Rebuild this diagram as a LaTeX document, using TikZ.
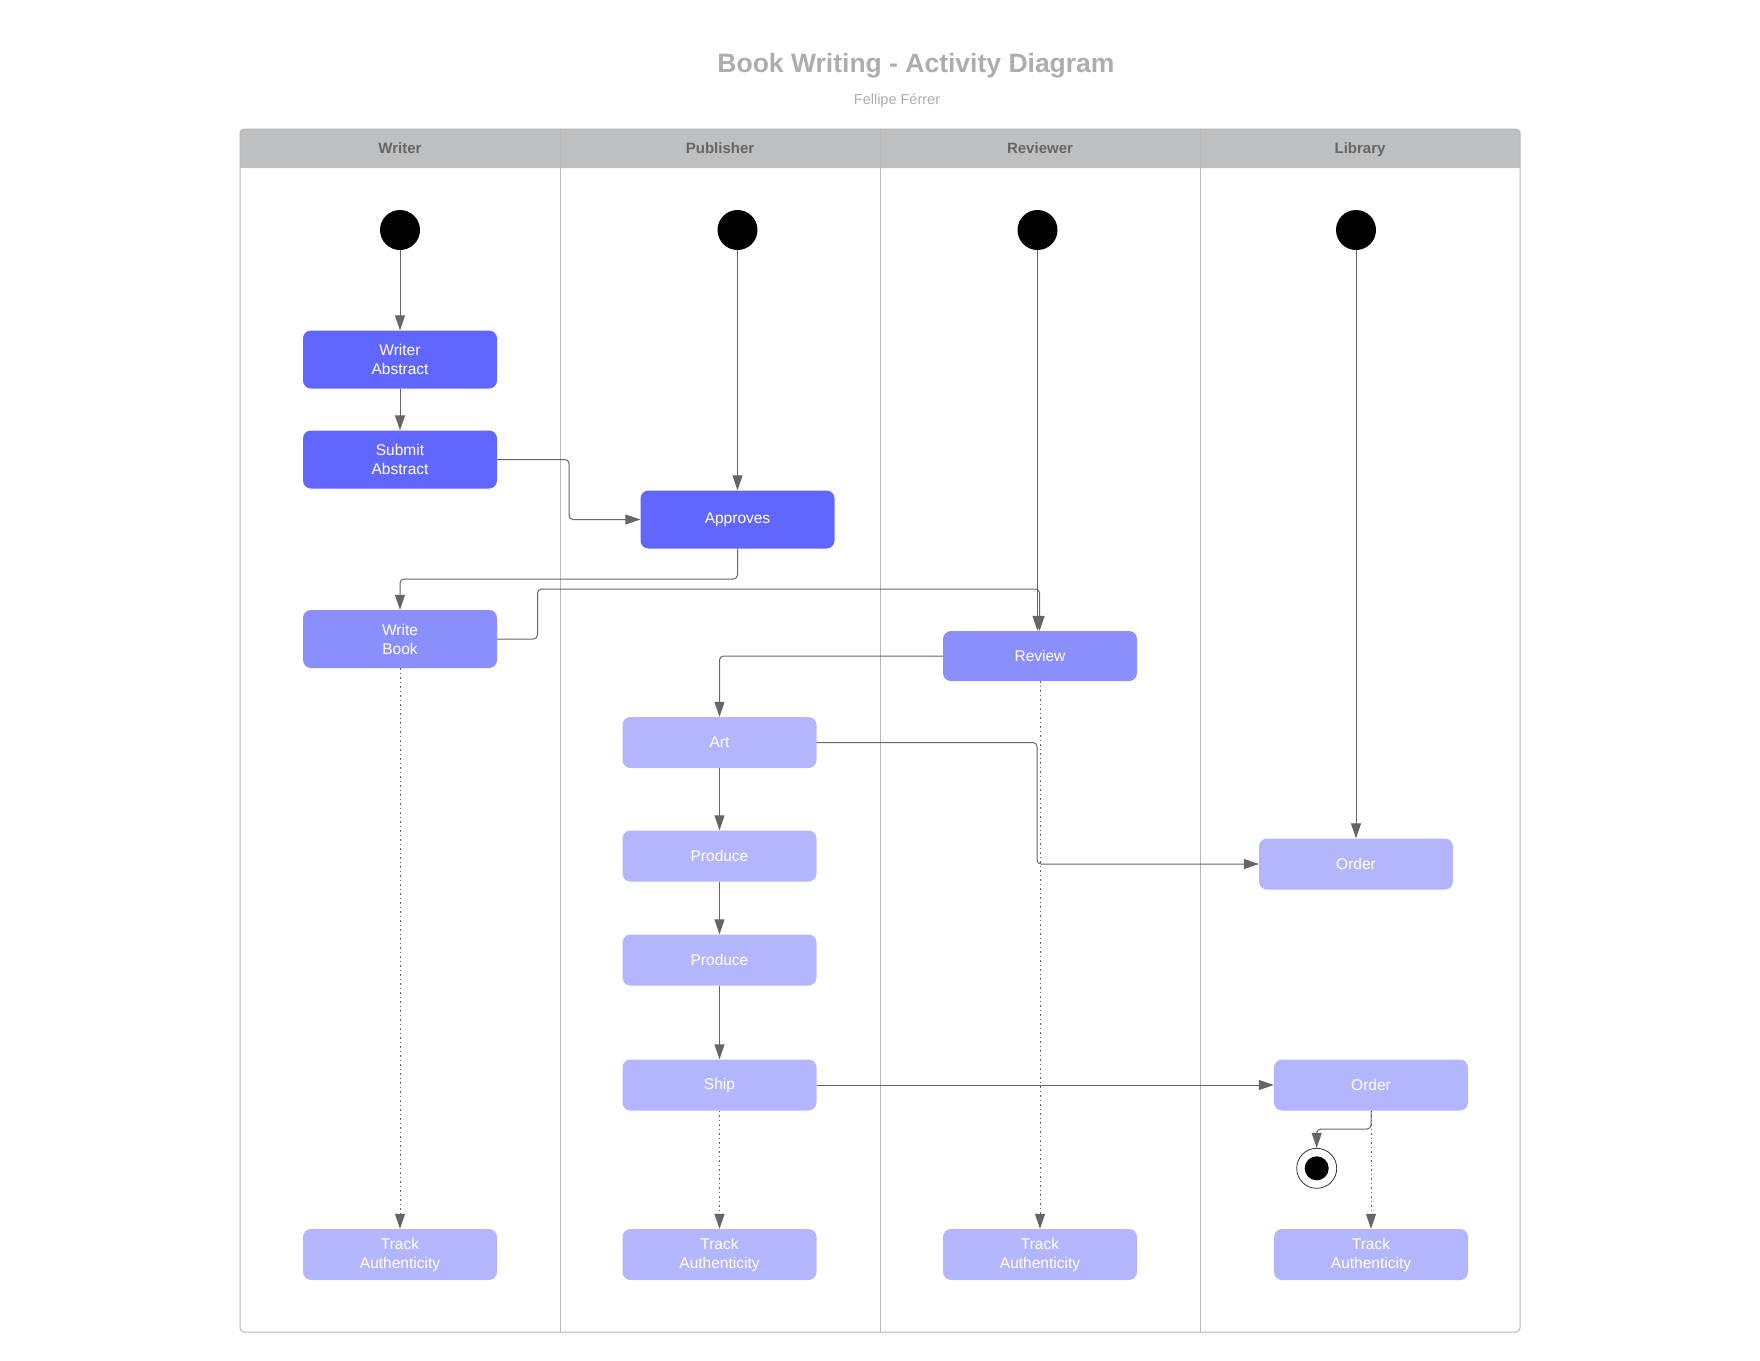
\documentclass[tikz,border=0pt]{standalone}
\usepackage{fontspec}
\setmainfont{Liberation Sans}
\usetikzlibrary{arrows.meta}
\definecolor{cdark}{HTML}{6066FE}
\definecolor{cmed}{HTML}{8A8FFC}
\definecolor{clight}{HTML}{B3B6FC}
\definecolor{cline}{HTML}{666666}
\definecolor{chead}{HTML}{BEBFC1}
\definecolor{cborder}{HTML}{B8B8B8}
\definecolor{ctitle}{HTML}{ADADAD}
\definecolor{chtext}{HTML}{666666}
\begin{document}
\begin{tikzpicture}[x=1pt,y=-1pt,
  act/.style={rounded corners=8pt, minimum width=194pt, minimum height=51pt, inner sep=0pt, text=white, align=center, font=\fontsize{15.5}{19}\selectfont},
  actdark/.style={act, fill=cdark, minimum height=58pt},
  actmed/.style={act, fill=cmed, minimum height=50pt},
  actmedtall/.style={act, fill=cmed, minimum height=58pt},
  actlight/.style={act, fill=clight},
  startnode/.style={circle, fill=black, minimum size=40pt, inner sep=0pt},
  endnode/.style={circle, draw=black!80, line width=0.8pt, minimum size=40pt, inner sep=0pt},
  flow/.style={draw=cline, line width=1pt, rounded corners=4pt, -{Triangle[length=15pt,width=10pt]}},
  dep/.style={flow, dash pattern=on 1.5pt off 3pt},
  lanehead/.style={font=\fontsize{15}{18}\selectfont\bfseries, text=chtext, anchor=base}
]
\useasboundingbox (0,0) rectangle (1760,1360);
\fill[white] (0,0) rectangle (1760,1360);

% pool
\fill[chead, rounded corners=4pt] (240,129) rectangle (1520,168);
\fill[chead] (240,150) rectangle (1520,168);
\draw[cborder, line width=1pt, rounded corners=4pt] (240,129) rectangle (1520,1332);
\foreach \xx in {560,880,1200} \draw[cborder, line width=1pt] (\xx,129) -- (\xx,1332);

\node[lanehead] (hW) at (400,153.5) {Writer};
\node[lanehead] (hP) at (720,153.5) {Publisher};
\node[lanehead] (hR) at (1040,153.5) {Reviewer};
\node[lanehead] (hL) at (1360,153.5) {Library};

\node[font=\fontsize{26.5}{30}\selectfont\bfseries, text=ctitle] (title) at (916,65.5) {Book Writing - Activity Diagram};
\node[font=\fontsize{14.5}{17}\selectfont, text=ctitle] (sub) at (897,100.5) {Fellipe Férrer};

% start nodes
\node[startnode] (sW) at (400,230) {};
\node[startnode] (sP) at (737.5,230) {};
\node[startnode] (sR) at (1037.5,230) {};
\node[startnode] (sL) at (1356,230) {};

% activities
\node[actdark] (wa) at (400,359.5) {Writer\\Abstract};
\node[actdark] (sa) at (400,459.5) {Submit\\Abstract};
\node[actdark] (ap) at (737.5,519.5) {Approves};
\node[actmedtall] (wb) at (400,639) {Write\\Book};
\node[actmed] (rv) at (1040,656) {Review};
\node[actlight] (art) at (719.5,742.5) {Art};
\node[actlight] (pr1) at (719.5,856) {Produce};
\node[actlight] (pr2) at (719.5,960) {Produce};
\node[actlight] (ship) at (719.5,1085) {Ship};
\node[actlight] (or1) at (1356,864) {Order};
\node[actlight] (or2) at (1371,1085) {Order};
\node[endnode] (fin) at (1316.7,1168.3) {};
\fill[black] (fin.center) circle (12);
\node[actlight] (t1) at (400,1254.5) {Track\\Authenticity};
\node[actlight] (t2) at (719.5,1254.5) {Track\\Authenticity};
\node[actlight] (t3) at (1040,1254.5) {Track\\Authenticity};
\node[actlight] (t4) at (1371,1254.5) {Track\\Authenticity};

% flows
\draw[flow] (sW) -- (wa);
\draw[flow] (wa) -- (sa);
\draw[flow] (sa.east) -- (569,459.5) -- (569,519.5) -- (ap.west);
\draw[flow] (sP) -- (ap);
\draw[flow] (ap.south) -- (737.5,579) -- (400,579) -- (wb.north);
\draw[flow] (wb.east) -- (537.5,639) -- (537.5,589) -- (1039.5,589) -- (1039.5,631);
\draw[flow] (sR) -- (sR |- rv.north);
\draw[flow] (rv.west) -- (art.north |- rv.west) -- (art.north);
\draw[flow] (art.east) -- (1037,742.5) -- (1037,864) -- (or1.west);
\draw[flow] (sL) -- (or1);
\draw[flow] (art) -- (pr1);
\draw[flow] (pr1) -- (pr2);
\draw[flow] (pr2) -- (ship);
\draw[flow] (ship) -- (or2);
\draw[flow] (or2.south) -- (1371,1129) -- (fin.north |- 0,1129) -- (fin.north);

% dependencies
\draw[dep] (wb) -- (t1);
\draw[dep] (ship) -- (t2);
\draw[dep] (rv) -- (t3);
\draw[dep] (or2) -- (t4);
\end{tikzpicture}
\end{document}
